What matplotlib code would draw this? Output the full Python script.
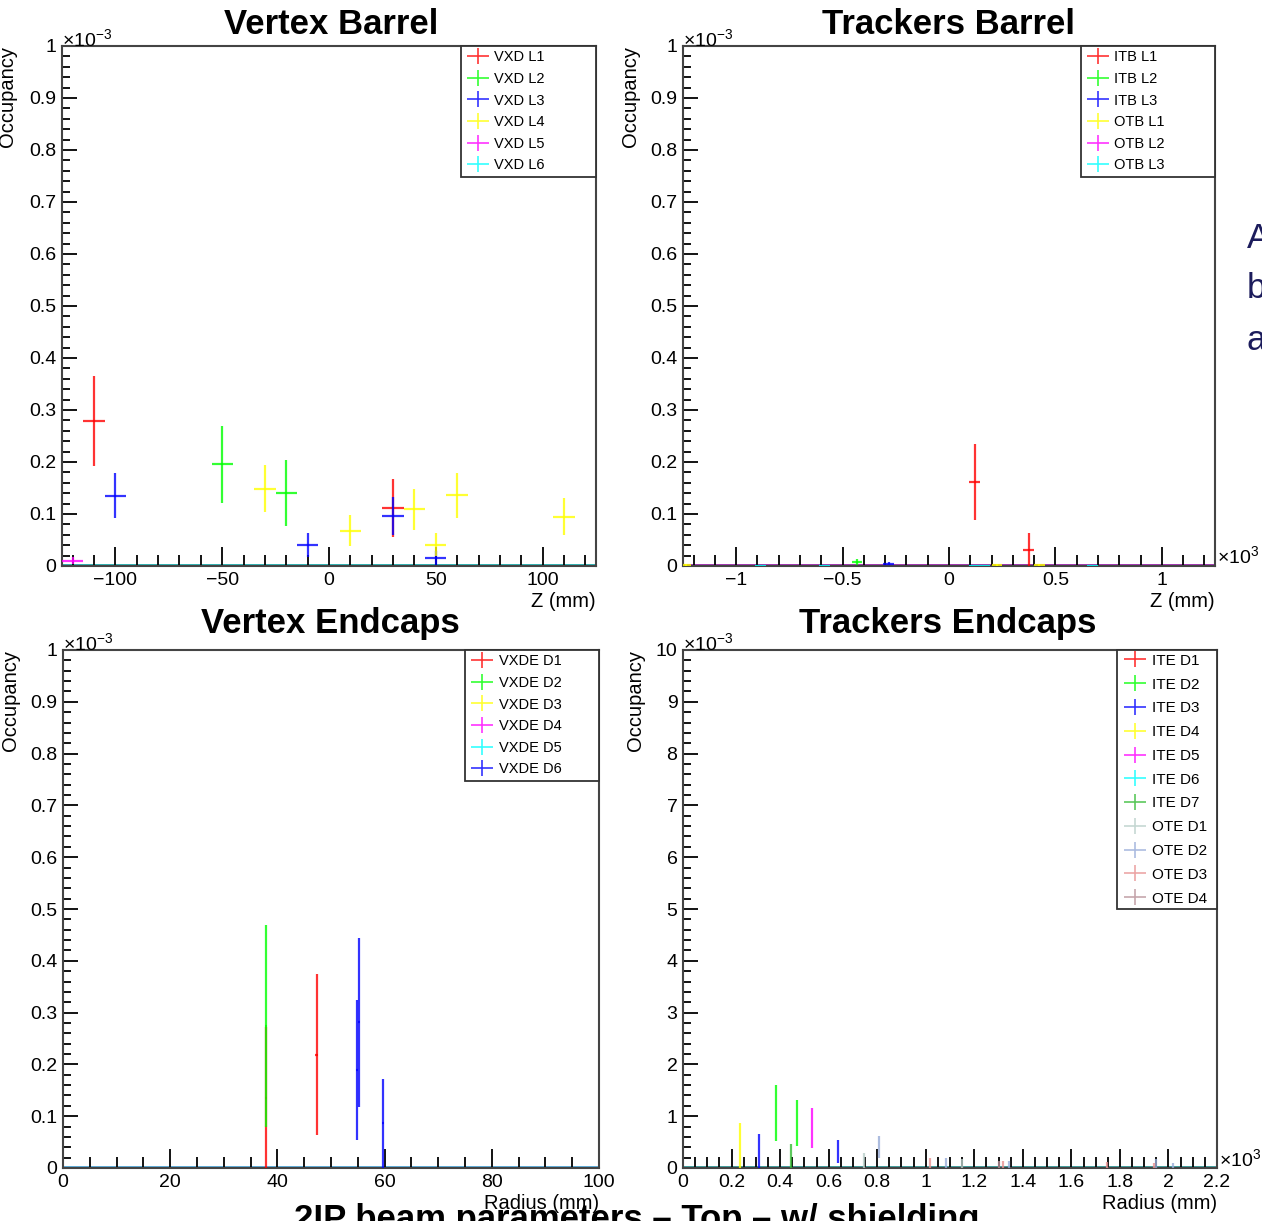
import matplotlib.pyplot as plt
from matplotlib.lines import Line2D
from matplotlib.path import Path
from matplotlib.ticker import MultipleLocator, FuncFormatter

plt.rcParams['font.family'] = ['Liberation Sans', 'DejaVu Sans']
plt.rcParams['mathtext.fontset'] = 'custom'
plt.rcParams['mathtext.rm'] = 'Liberation Sans'
plt.rcParams['mathtext.it'] = 'Liberation Sans:italic'

# ---- Vertex Barrel (Z in mm, occupancy in 1e-3)
vxd_names = ['VXD L1', 'VXD L2', 'VXD L3', 'VXD L4', 'VXD L5', 'VXD L6']
vxd_colors = ['#ff0000', '#00ff00', '#0000ff', '#ffff00', '#ff00ff', '#00ffff']
vxd_layer = [0, 0, 1, 1, 2, 2, 2, 2, 3, 3, 3, 3, 3, 3, 4]
vxd_z = [-110, 30, -50, -20, -100, -10, 30, 50, -30, 10, 40, 50, 60, 110, -120]
vxd_occ = [0.279, 0.112, 0.196, 0.140, 0.135, 0.041, 0.096, 0.015,
           0.149, 0.068, 0.109, 0.041, 0.136, 0.095, 0.010]
vxd_err = [0.087, 0.056, 0.074, 0.063, 0.043, 0.023, 0.037, 0.013,
           0.045, 0.030, 0.039, 0.022, 0.043, 0.035, 0.007]

# ---- Trackers Barrel (Z in 1e3 mm)
trk_names = ['ITB L1', 'ITB L2', 'ITB L3', 'OTB L1', 'OTB L2', 'OTB L3']
trk_colors = ['#ff0000', '#00ff00', '#0000ff', '#ffff00', '#ff00ff', '#00ffff']
trk_layer = [0, 0, 1, 2, 3, 3, 3, 5, 5, 5, 5, 5]
trk_z = [0.12, 0.375, -0.433, -0.283, -1.236, 0.225, 0.425, -0.886, -0.584, 0.12, 0.17, 0.674]
trk_occ = [0.161, 0.031, 0.008, 0.004, 0.002, 0.002, 0.002, 0, 0, 0, 0, 0]
trk_err = [0.073, 0.032, 0.006, 0.003, 0.002, 0.002, 0.002, 0, 0, 0, 0, 0]

# ---- Vertex Endcaps (radius in mm)
vxde_names = ['VXDE D1', 'VXDE D2', 'VXDE D3', 'VXDE D4', 'VXDE D5', 'VXDE D6']
vxde_colors = ['#ff0000', '#00ff00', '#ffff00', '#ff00ff', '#00ffff', '#0000ff']
vxde_disk = [0, 0, 1, 5, 5, 5]
vxde_r = [37.8, 47.3, 37.8, 54.8, 55.2, 59.7]
vxde_occ = [0.136, 0.219, 0.274, 0.189, 0.281, 0.086]
vxde_err = [0.136, 0.156, 0.195, 0.135, 0.163, 0.086]

# ---- Trackers Endcaps (radius in 1e3 mm)
tre_names = ['ITE D1', 'ITE D2', 'ITE D3', 'ITE D4', 'ITE D5', 'ITE D6', 'ITE D7',
             'OTE D1', 'OTE D2', 'OTE D3', 'OTE D4']
tre_colors = ['#ff0000', '#00ff00', '#0000ff', '#ffff00', '#ff00ff', '#00ffff', '#33bb33',
              '#b8cec8', '#98acd8', '#e89090', '#b89098']
tre_disk = [3, 2, 1, 6, 1, 4, 2, 7, 8, 9, 8, 7, 10, 9, 8, 9, 9, 8, 8]
tre_r = [0.235, 0.314, 0.385, 0.445, 0.469, 0.532, 0.639, 0.746, 0.808, 1.016, 1.082,
         1.15, 1.30, 1.317, 1.344, 1.748, 1.94, 1.95, 2.017]
tre_occ = [0.435, 0.326, 1.06, 0.23, 0.87, 0.77, 0.32, 0.14, 0.40, 0.10, 0.10,
           0.085, 0.07, 0.07, 0.07, 0.06, 0.05, 0.09, 0.045]
tre_err = [0.435, 0.326, 0.54, 0.23, 0.45, 0.385, 0.23, 0.14, 0.21, 0.10, 0.10,
           0.085, 0.07, 0.07, 0.07, 0.06, 0.05, 0.09, 0.045]

# flat cross used as legend marker (wider than tall, like ROOT)
cross = Path([(-1, 0), (1, 0), (0, -0.68), (0, 0.68)],
             [Path.MOVETO, Path.LINETO, Path.MOVETO, Path.LINETO])


def fmt(v, pos):
    return ('%g' % round(v, 6)).replace('-', '\u2212')


def style_axes(ax, xlim, ylim, xmaj, xmin, ymaj, ymin):
    ax.set_xlim(*xlim)
    ax.set_ylim(*ylim)
    ax.xaxis.set_major_locator(MultipleLocator(xmaj))
    ax.xaxis.set_minor_locator(MultipleLocator(xmin))
    ax.yaxis.set_major_locator(MultipleLocator(ymaj))
    ax.yaxis.set_minor_locator(MultipleLocator(ymin))
    ax.xaxis.set_major_formatter(FuncFormatter(fmt))
    ax.yaxis.set_major_formatter(FuncFormatter(fmt))
    ax.tick_params(which='both', direction='in', top=False, right=False,
                   width=1.3, labelsize=14, pad=4)
    ax.tick_params(axis='x', which='major', length=14)
    ax.tick_params(axis='x', which='minor', length=8)
    ax.tick_params(axis='y', which='major', length=11)
    ax.tick_params(axis='y', which='minor', length=6)
    for s in ax.spines.values():
        s.set_color('#444444')
        s.set_linewidth(1.5)


def draw_points(ax, idx, xs, ys, es, colors, dx, zero_color):
    ax.axhline(0, color=zero_color, lw=2.8, zorder=1.5)
    for k in range(len(colors)):
        px = [x for i, x in zip(idx, xs) if i == k]
        py = [y for i, y in zip(idx, ys) if i == k]
        pe = [e for i, e in zip(idx, es) if i == k]
        if px:
            ax.errorbar(px, py, yerr=pe, xerr=dx, fmt='none', ecolor=colors[k],
                        elinewidth=1.6, capsize=0, alpha=0.8, zorder=3)


def add_legend(ax, names, colors, x0, fs, ls, bp):
    handles = [Line2D([], [], color=c, marker=cross, linestyle='none',
                      markersize=16, markeredgewidth=1.2, alpha=0.8) for c in colors]
    leg = ax.legend(handles, names, loc='upper left', bbox_to_anchor=(x0, 0, 1 - x0, 1.0),
                    mode='expand', borderaxespad=0, fancybox=False, framealpha=1,
                    edgecolor='#333333', fontsize=fs, labelspacing=ls, borderpad=bp,
                    handlelength=1.8, handletextpad=0.2)
    leg.get_frame().set_linewidth(1.3)


def labels(ax, xlabel, ylx, mult_x):
    ax.set_ylabel('Occupancy', fontsize=14.5, loc='top')
    ax.yaxis.set_label_coords(ylx, 1.0)
    ax.set_xlabel(xlabel, fontsize=14.5, loc='right')
    ax.xaxis.set_label_coords(1.0, -0.05)
    ax.text(0.0, 1.0, r'$\times10^{-3}$', transform=ax.transAxes, ha='left',
            va='baseline', fontsize=14)
    if mult_x:
        ax.text(1.003, 0.018, r'$\times10^{3}$', transform=ax.transAxes, ha='left',
                va='center', fontsize=14)


fig = plt.figure(figsize=(12.62, 12.21), dpi=100)

ax1 = fig.add_axes([62 / 1262, 1 - 566 / 1221, 534 / 1262, 520 / 1221])
ax2 = fig.add_axes([683 / 1262, 1 - 566 / 1221, 532 / 1262, 520 / 1221])
ax3 = fig.add_axes([63 / 1262, 1 - 1168 / 1221, 536 / 1262, 518 / 1221])
ax4 = fig.add_axes([683 / 1262, 1 - 1168 / 1221, 534 / 1262, 518 / 1221])

# Vertex Barrel
style_axes(ax1, (-125, 125), (0, 1), 50, 10, 0.1, 0.02)
draw_points(ax1, vxd_layer, vxd_z, vxd_occ, vxd_err, vxd_colors, 5, '#2ab0b0')
add_legend(ax1, vxd_names, vxd_colors, 0.747, 10.5, 0.52, 0.3)
labels(ax1, 'Z (mm)', -0.085, False)

# Trackers Barrel
style_axes(ax2, (-1.25, 1.25), (0, 1), 0.5, 0.1, 0.1, 0.02)
draw_points(ax2, trk_layer, trk_z, trk_occ, trk_err, trk_colors, 0.025, '#a030b0')
add_legend(ax2, trk_names, trk_colors, 0.748, 10.5, 0.52, 0.3)
labels(ax2, 'Z (mm)', -0.081, True)

# Vertex Endcaps
style_axes(ax3, (0, 100), (0, 1), 20, 5, 0.1, 0.02)
draw_points(ax3, vxde_disk, vxde_r, vxde_occ, vxde_err, vxde_colors, 0.2, '#5aaad8')
add_legend(ax3, vxde_names, vxde_colors, 0.75, 10.5, 0.52, 0.3)
labels(ax3, 'Radius (mm)', -0.08, False)

# Trackers Endcaps
style_axes(ax4, (0, 2.2), (0, 10), 0.2, 0.05, 1, 0.2)
draw_points(ax4, tre_disk, tre_r, tre_occ, tre_err, tre_colors, None, '#3a9a9a')
add_legend(ax4, tre_names, tre_colors, 0.813, 11, 0.64, 0.25)
labels(ax4, 'Radius (mm)', -0.071, True)

# Panel titles
fig.text(331 / 1262, 1 - 24 / 1221, 'Vertex Barrel', ha='center', va='center',
         fontsize=25, fontweight='bold')
fig.text(948 / 1262, 1 - 24 / 1221, 'Trackers Barrel', ha='center', va='center',
         fontsize=25, fontweight='bold')
fig.text(330 / 1262, 1 - 624 / 1221, 'Vertex Endcaps', ha='center', va='center',
         fontsize=25, fontweight='bold')
fig.text(948 / 1262, 1 - 624 / 1221, 'Trackers Endcaps', ha='center', va='center',
         fontsize=25, fontweight='bold')

# slide text cut by the frame
fig.text(637 / 1262, 1 - 1203 / 1221, '2IP beam parameters \u2013 Top \u2013 w/ shielding',
         ha='center', va='top', fontsize=25, fontweight='bold')
for txt, yb in zip(['A', 'b', 'a'], [248, 298, 350]):
    fig.text(1247 / 1262, 1 - yb / 1221, txt, ha='left', va='baseline',
             fontsize=25, color='#1c1c5c')

fig.savefig('out.png', dpi=100)
